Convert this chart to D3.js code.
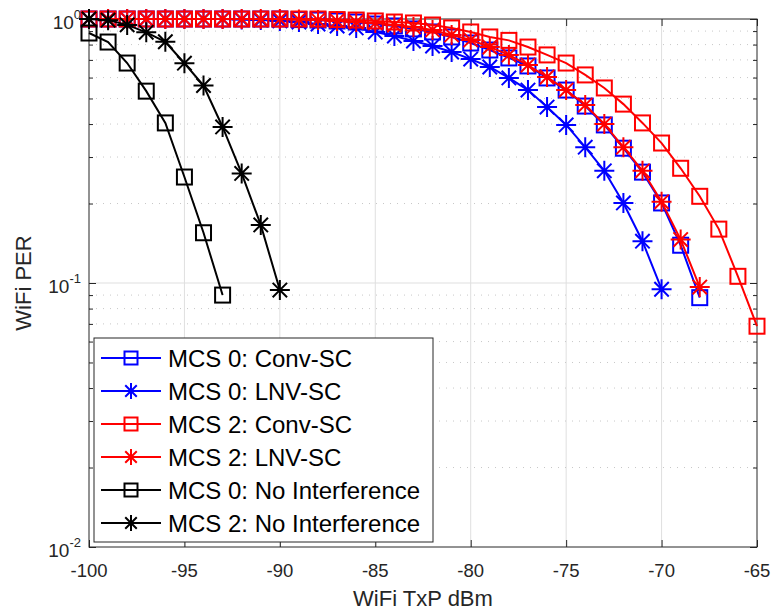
<!DOCTYPE html>
<html>
<head>
<meta charset="utf-8">
<script src="https://cdn.jsdelivr.net/npm/d3@7"></script>
<style>
  body { margin: 0; background: #fff; }
  svg { font-family: "Liberation Sans", Arial, sans-serif; }
</style>
</head>
<body>
<div id="chart"></div>
<script>
const width = 773;
const height = 610;

// x values (WiFi TxP dBm), one point per dB
const xMcs0 = d3.range(-100, -67, 1);        // -100 .. -68
const xMcs0Lnv = d3.range(-100, -69, 1);     // -100 .. -70
const xMcs2Conv = d3.range(-100, -64, 1);    // -100 .. -65
const xMcs2Lnv = d3.range(-100, -67, 1);     // -100 .. -68
const xNoIntf0 = d3.range(-100, -92, 1);     // -100 .. -93
const xNoIntf2 = d3.range(-100, -89, 1);     // -100 .. -90

// PER values
const perMcs0Conv = [1, 1, 1, 1, 1, 1, 1, 1, 1, 1, 1, 0.995, 0.991, 0.983, 0.974, 0.957, 0.941, 0.917,
  0.893, 0.855, 0.811, 0.763, 0.712, 0.664, 0.598, 0.538, 0.468, 0.397, 0.324, 0.263, 0.201, 0.139, 0.088];
const perMcs0Lnv = [1, 1, 1, 1, 1, 1, 1, 1, 0.995, 0.991, 0.983, 0.974, 0.957, 0.941, 0.925, 0.893,
  0.862, 0.825, 0.790, 0.750, 0.705, 0.658, 0.598, 0.538, 0.464, 0.397, 0.327, 0.266, 0.201, 0.144, 0.0947];
const perMcs2Conv = [1, 1, 1, 1, 1, 1, 1, 1, 1, 1, 1, 1, 1, 0.995, 0.991, 0.983, 0.974, 0.966,
  0.949, 0.925, 0.893, 0.855, 0.830, 0.783, 0.731, 0.681, 0.614, 0.548, 0.476, 0.404, 0.339, 0.272,
  0.213, 0.160, 0.106, 0.0686];
const perMcs2Lnv = [1, 1, 1, 1, 1, 1, 1, 1, 1, 1, 1, 0.995, 0.991, 0.983, 0.974, 0.966, 0.949, 0.933,
  0.909, 0.870, 0.833, 0.783, 0.731, 0.669, 0.603, 0.538, 0.472, 0.400, 0.327, 0.266, 0.203, 0.146, 0.0965];
const perNoIntf0 = [0.885, 0.818, 0.681, 0.533, 0.404, 0.252, 0.155, 0.090];
const perNoIntf2 = [1.0, 0.99, 0.95, 0.89, 0.82, 0.68, 0.56, 0.39, 0.26, 0.166, 0.094];

const legendLabels = ['MCS 0: Conv-SC', 'MCS 0: LNV-SC', 'MCS 2: Conv-SC', 'MCS 2: LNV-SC',
  'MCS 0: No Interference', 'MCS 2: No Interference'];

const xTicks = [-100, -95, -90, -85, -80, -75, -70, -65];
const yTicks = [0.01, 0.1, 1];

const series = [
  { x: xMcs0, y: perMcs0Conv, color: '#0000ff', marker: 'square' },
  { x: xMcs0Lnv, y: perMcs0Lnv, color: '#0000ff', marker: 'star' },
  { x: xMcs2Conv, y: perMcs2Conv, color: '#ff0000', marker: 'square' },
  { x: xMcs2Lnv, y: perMcs2Lnv, color: '#ff0000', marker: 'star' },
  { x: xNoIntf0, y: perNoIntf0, color: '#000000', marker: 'square' },
  { x: xNoIntf2, y: perNoIntf2, color: '#000000', marker: 'star' }
];

const plotL = 89, plotR = 757, plotT = 19, plotB = 547;
const axisColor = '#262626';
const gridColor = '#dfdfdf';

const svg = d3.select('#chart').append('svg')
  .attr('width', width)
  .attr('height', height);

const xScale = d3.scaleLinear().domain([-100, -65]).range([plotL, plotR]);
const yScale = d3.scaleLog().domain([0.01, 1]).range([plotB, plotT]);

// minor y values 2..9 per decade
const minorY = [];
[0.01, 0.1].forEach(d => { for (let k = 2; k <= 9; k++) minorY.push(d * k); });

// grid
const grid = svg.append('g');
grid.selectAll('.gx').data(xTicks.slice(1, -1)).enter().append('line')
  .attr('x1', d => xScale(d)).attr('x2', d => xScale(d))
  .attr('y1', plotT).attr('y2', plotB)
  .attr('stroke', gridColor).attr('stroke-width', 1);
grid.selectAll('.gy').data([0.1]).enter().append('line')
  .attr('x1', plotL).attr('x2', plotR)
  .attr('y1', d => yScale(d)).attr('y2', d => yScale(d))
  .attr('stroke', gridColor).attr('stroke-width', 1);
grid.selectAll('.gm').data(minorY).enter().append('line')
  .attr('x1', plotL).attr('x2', plotR)
  .attr('y1', d => yScale(d)).attr('y2', d => yScale(d))
  .attr('stroke', '#c8c8c8').attr('stroke-width', 1)
  .attr('stroke-dasharray', '1,6');

// axes with inward ticks on all four sides
const fmtNone = () => '';
svg.append('g').attr('transform', `translate(0,${plotB})`)
  .call(d3.axisBottom(xScale).tickValues(xTicks).tickSizeInner(-7).tickSizeOuter(0).tickFormat(fmtNone));
svg.append('g').attr('transform', `translate(0,${plotT})`)
  .call(d3.axisTop(xScale).tickValues(xTicks).tickSizeInner(-7).tickSizeOuter(0).tickFormat(fmtNone));
svg.append('g').attr('transform', `translate(${plotL},0)`)
  .call(d3.axisLeft(yScale).tickValues(yTicks).tickSizeInner(-7).tickSizeOuter(0).tickFormat(fmtNone));
svg.append('g').attr('transform', `translate(${plotR},0)`)
  .call(d3.axisRight(yScale).tickValues(yTicks).tickSizeInner(-7).tickSizeOuter(0).tickFormat(fmtNone));
svg.append('g').attr('transform', `translate(${plotL},0)`)
  .call(d3.axisLeft(yScale).tickValues(minorY).tickSizeInner(-4).tickSizeOuter(0).tickFormat(fmtNone));
svg.append('g').attr('transform', `translate(${plotR},0)`)
  .call(d3.axisRight(yScale).tickValues(minorY).tickSizeInner(-4).tickSizeOuter(0).tickFormat(fmtNone));
svg.selectAll('.domain').remove();
svg.selectAll('.tick line').attr('stroke', axisColor).attr('stroke-width', 1);

svg.append('rect')
  .attr('x', plotL).attr('y', plotT)
  .attr('width', plotR - plotL).attr('height', plotB - plotT)
  .attr('fill', 'none').attr('stroke', axisColor).attr('stroke-width', 1);

// tick labels
svg.selectAll('.xl').data(xTicks).enter().append('text')
  .attr('x', d => xScale(d)).attr('y', 577)
  .attr('text-anchor', 'middle').attr('font-size', 18.5).attr('fill', axisColor)
  .text(d => d);

const yl = svg.selectAll('.yl').data(yTicks).enter().append('text')
  .attr('x', 81).attr('y', d => yScale(d) + 10)
  .attr('text-anchor', 'end').attr('font-size', 19).attr('fill', axisColor);
yl.append('tspan').text('10');
yl.append('tspan').attr('dy', -10).attr('font-size', 13).text(d => Math.round(Math.log10(d)));

svg.append('text')
  .attr('x', (plotL + plotR) / 2).attr('y', 606)
  .attr('text-anchor', 'middle').attr('font-size', 22).attr('fill', axisColor)
  .text('WiFi TxP dBm');
svg.append('text')
  .attr('transform', `translate(31,${(plotT + plotB) / 2}) rotate(-90)`)
  .attr('text-anchor', 'middle').attr('font-size', 22).attr('fill', axisColor)
  .text('WiFi PER');

// marker drawing
function drawMarker(g, kind, color, size) {
  if (kind === 'square') {
    g.append('rect')
      .attr('x', -size / 2).attr('y', -size / 2)
      .attr('width', size).attr('height', size)
      .attr('fill', 'none').attr('stroke', color).attr('stroke-width', 2);
  } else {
    const r = size / 2;
    const d = r * 0.72;
    const p = `M${-r},0L${r},0M0,${-r}L0,${r}M${-d},${-d}L${d},${d}M${-d},${d}L${d},${-d}`;
    g.append('path').attr('d', p)
      .attr('fill', 'none').attr('stroke', color).attr('stroke-width', 2);
  }
}

const line = d3.line().x(d => xScale(d[0])).y(d => yScale(d[1]));

series.forEach(s => {
  const pts = s.x.map((x, i) => [x, s.y[i]]);
  const g = svg.append('g');
  g.append('path').datum(pts)
    .attr('d', line)
    .attr('fill', 'none').attr('stroke', s.color).attr('stroke-width', 2);
  pts.forEach(p => {
    const m = g.append('g').attr('transform', `translate(${xScale(p[0])},${yScale(p[1])})`);
    drawMarker(m, s.marker, s.color, s.marker === 'square' ? 15 : 20);
  });
});

// legend
const lg = svg.append('g');
lg.append('rect')
  .attr('x', 94).attr('y', 338).attr('width', 339).attr('height', 204)
  .attr('fill', '#fff').attr('stroke', axisColor).attr('stroke-width', 1);
series.forEach((s, i) => {
  const cy = 358 + i * 33;
  lg.append('line').attr('x1', 101).attr('x2', 161).attr('y1', cy).attr('y2', cy)
    .attr('stroke', s.color).attr('stroke-width', 2);
  const m = lg.append('g').attr('transform', `translate(131,${cy})`);
  drawMarker(m, s.marker, s.color, s.marker === 'square' ? 13 : 16);
  lg.append('text').attr('x', 168).attr('y', cy + 9)
    .attr('font-size', 24).attr('fill', '#000')
    .text(legendLabels[i]);
});
</script>
</body>
</html>
